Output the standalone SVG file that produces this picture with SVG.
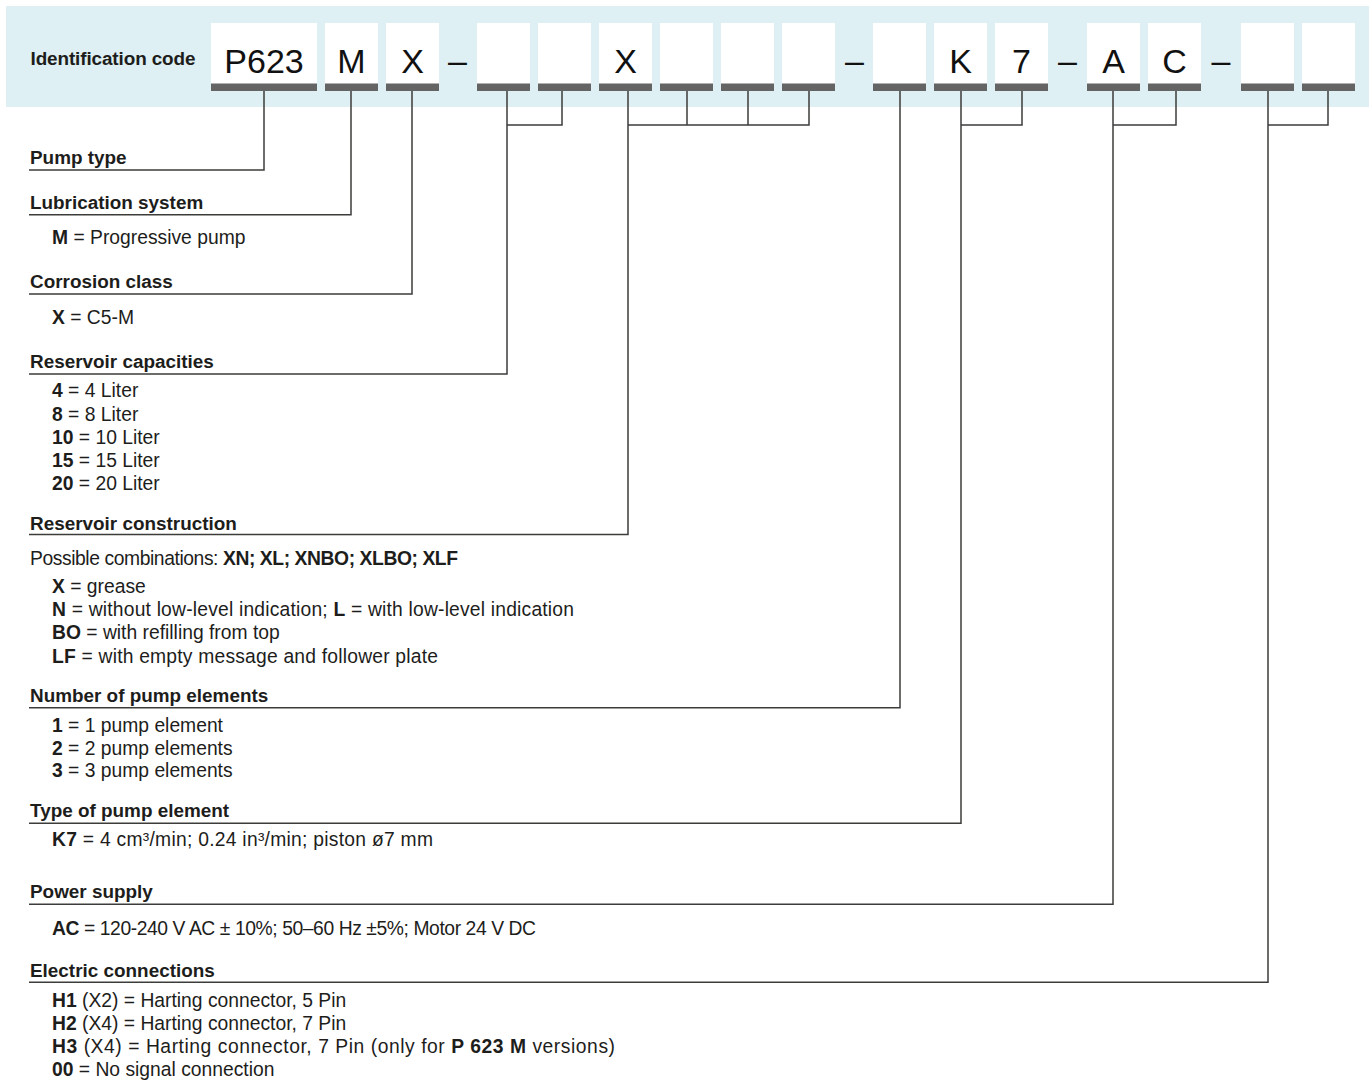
<svg xmlns="http://www.w3.org/2000/svg" width="1372" height="1082" viewBox="0 0 1372 1082">
<style>
.bg{fill:#def0f3}
.box{fill:#ffffff}
.bar{fill:#646464}
.code{font-family:"Liberation Sans",Arial,sans-serif;font-size:34px;fill:#111111;text-anchor:middle}
.hd{font-family:"Liberation Sans",Arial,sans-serif;font-size:18.9px;font-weight:bold;fill:#1d1d1b}
.tx{font-family:"Liberation Sans",Arial,sans-serif;font-size:19.3px;fill:#1d1d1b}
.b{font-weight:bold}
.ln{stroke:#3c3c3b;stroke-width:1.5;fill:none}
</style>
<rect class="bg" x="6" y="6" width="1363" height="101"/>
<g id="code">
  <text class="hd" x="30.5" y="65" textLength="165">Identification code</text>
  <g id="c-p623"><rect class="box" x="211" y="23" width="106" height="61"/><rect class="bar" x="211" y="83.5" width="106" height="7.5"/><text class="code" x="264" y="73">P623</text></g>
  <g id="c-m"><rect class="box" x="325" y="23" width="53" height="61"/><rect class="bar" x="325" y="83.5" width="53" height="7.5"/><text class="code" x="351.5" y="73">M</text></g>
  <g id="c-x1"><rect class="box" x="386" y="23" width="53" height="61"/><rect class="bar" x="386" y="83.5" width="53" height="7.5"/><text class="code" x="412.5" y="73">X</text></g>
  <text class="code" x="457.5" y="72">–</text>
  <g id="c-r1"><rect class="box" x="477" y="23" width="53" height="61"/><rect class="bar" x="477" y="83.5" width="53" height="7.5"/></g>
  <g id="c-r2"><rect class="box" x="538" y="23" width="53" height="61"/><rect class="bar" x="538" y="83.5" width="53" height="7.5"/></g>
  <g id="c-x2"><rect class="box" x="599" y="23" width="53" height="61"/><rect class="bar" x="599" y="83.5" width="53" height="7.5"/><text class="code" x="625.5" y="73">X</text></g>
  <g id="c-s1"><rect class="box" x="660" y="23" width="53" height="61"/><rect class="bar" x="660" y="83.5" width="53" height="7.5"/></g>
  <g id="c-s2"><rect class="box" x="721" y="23" width="53" height="61"/><rect class="bar" x="721" y="83.5" width="53" height="7.5"/></g>
  <g id="c-s3"><rect class="box" x="782" y="23" width="53" height="61"/><rect class="bar" x="782" y="83.5" width="53" height="7.5"/></g>
  <text class="code" x="854.5" y="72">–</text>
  <g id="c-n"><rect class="box" x="873" y="23" width="53" height="61"/><rect class="bar" x="873" y="83.5" width="53" height="7.5"/></g>
  <g id="c-k"><rect class="box" x="934" y="23" width="53" height="61"/><rect class="bar" x="934" y="83.5" width="53" height="7.5"/><text class="code" x="960.5" y="73">K</text></g>
  <g id="c-7"><rect class="box" x="995" y="23" width="53" height="61"/><rect class="bar" x="995" y="83.5" width="53" height="7.5"/><text class="code" x="1021.5" y="73">7</text></g>
  <text class="code" x="1067.5" y="72">–</text>
  <g id="c-a"><rect class="box" x="1087" y="23" width="53" height="61"/><rect class="bar" x="1087" y="83.5" width="53" height="7.5"/><text class="code" x="1113.5" y="73">A</text></g>
  <g id="c-c"><rect class="box" x="1148" y="23" width="53" height="61"/><rect class="bar" x="1148" y="83.5" width="53" height="7.5"/><text class="code" x="1174.5" y="73">C</text></g>
  <text class="code" x="1221" y="72">–</text>
  <g id="c-e1"><rect class="box" x="1241" y="23" width="53" height="61"/><rect class="bar" x="1241" y="83.5" width="53" height="7.5"/></g>
  <g id="c-e2"><rect class="box" x="1302" y="23" width="53" height="61"/><rect class="bar" x="1302" y="83.5" width="53" height="7.5"/></g>
</g>
<g id="connectors" class="ln">
  <path d="M264 91 V170 H29"/>
  <path d="M351 91 V214.7 H29"/>
  <path d="M412 91 V294 H29"/>
  <path d="M562 91 V125 H507 M507 91 V374 H29"/>
  <path d="M809 91 V125 H628 M687 91 V125 M748 91 V125 M628 91 V534.5 H29"/>
  <path d="M900 91 V707.7 H29"/>
  <path d="M1022 91 V125 H961 M961 91 V823.3 H29"/>
  <path d="M1176 91 V125 H1113 M1113 91 V904.3 H29"/>
  <path d="M1328 91 V125 H1268 M1268 91 V982.3 H29"/>
</g>
<g id="pump-type"><text class="hd" x="30" y="164.3">Pump type</text></g>
<g id="lubrication">
  <text class="hd" x="30" y="208.7">Lubrication system</text>
  <text class="tx" x="52" y="244"><tspan class="b">M</tspan> = Progressive pump</text>
</g>
<g id="corrosion">
  <text class="hd" x="30" y="288">Corrosion class</text>
  <text class="tx" x="52" y="324"><tspan class="b">X</tspan> = C5-M</text>
</g>
<g id="capacities">
  <text class="hd" x="30" y="367.5">Reservoir capacities</text>
  <text class="tx" x="52" y="397.3"><tspan class="b">4</tspan> = 4 Liter</text>
  <text class="tx" x="52" y="420.5"><tspan class="b">8</tspan> = 8 Liter</text>
  <text class="tx" x="52" y="443.7"><tspan class="b">10</tspan> = 10 Liter</text>
  <text class="tx" x="52" y="467"><tspan class="b">15</tspan> = 15 Liter</text>
  <text class="tx" x="52" y="490"><tspan class="b">20</tspan> = 20 Liter</text>
</g>
<g id="construction">
  <text class="hd" x="30" y="529.5">Reservoir construction</text>
  <text class="tx" x="30" y="565" textLength="428">Possible combinations: <tspan class="b">XN; XL; XNBO; XLBO; XLF</tspan></text>
  <text class="tx" x="52" y="592.5"><tspan class="b">X</tspan> = grease</text>
  <text class="tx" x="52" y="616" textLength="522"><tspan class="b">N</tspan> = without low-level indication; <tspan class="b">L</tspan> = with low-level indication</text>
  <text class="tx" x="52" y="639"><tspan class="b">BO</tspan> = with refilling from top</text>
  <text class="tx" x="52" y="662.5" textLength="386"><tspan class="b">LF</tspan> = with empty message and follower plate</text>
</g>
<g id="elements">
  <text class="hd" x="30" y="701.7">Number of pump elements</text>
  <text class="tx" x="52" y="731.7"><tspan class="b">1</tspan> = 1 pump element</text>
  <text class="tx" x="52" y="754.5"><tspan class="b">2</tspan> = 2 pump elements</text>
  <text class="tx" x="52" y="777"><tspan class="b">3</tspan> = 3 pump elements</text>
</g>
<g id="element-type">
  <text class="hd" x="30" y="816.7">Type of pump element</text>
  <text class="tx" x="52" y="845.7" textLength="381"><tspan class="b">K7</tspan> = 4 cm³/min; 0.24 in³/min;  piston ø7 mm</text>
</g>
<g id="power">
  <text class="hd" x="30" y="898.3">Power supply</text>
  <text class="tx" x="52" y="935" textLength="484"><tspan class="b">AC</tspan> = 120-240 V AC ± 10%; 50–60 Hz ±5%; Motor 24 V DC</text>
</g>
<g id="electric">
  <text class="hd" x="30" y="976.7">Electric connections</text>
  <text class="tx" x="52" y="1006.7"><tspan class="b">H1</tspan> (X2) = Harting connector, 5 Pin</text>
  <text class="tx" x="52" y="1030"><tspan class="b">H2</tspan> (X4) = Harting connector, 7 Pin</text>
  <text class="tx" x="52" y="1052.5" textLength="563"><tspan class="b">H3</tspan> (X4) = Harting connector, 7 Pin (only for <tspan class="b">P 623 M</tspan> versions)</text>
  <text class="tx" x="52" y="1075.5"><tspan class="b">00</tspan> = No signal connection</text>
</g>
</svg>
